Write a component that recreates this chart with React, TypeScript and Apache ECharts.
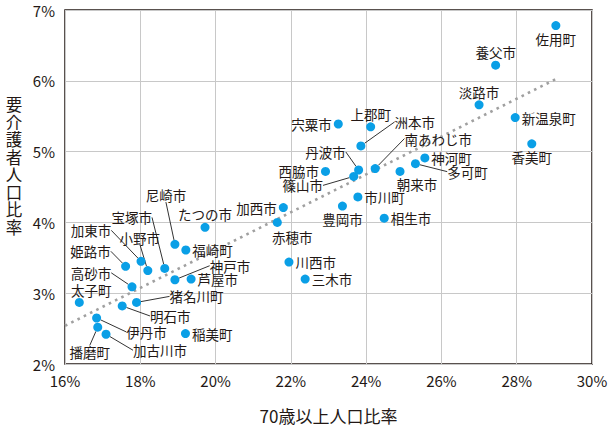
import React, { useEffect, useRef } from 'react'
import * as echarts from 'echarts'

// 市町名・70歳以上人口比率(%)・要介護者人口比率(%)
const towns = [
  '佐用町', '養父市', '淡路市', '新温泉町', '香美町', '宍粟市', '上郡町', '洲本市',
  '丹波市', '南あわじ市', '篠山市', '西脇市', '朝来市', '神河町', '多可町', '市川町',
  '豊岡市', '相生市', '加西市', '赤穂市', '川西市', '三木市', '尼崎市', 'たつの市',
  '福崎町', '加東市', '姫路市', '小野市', '宝塚市', '神戸市', '芦屋市', '高砂市',
  '太子町', '猪名川町', '明石市', '伊丹市', '播磨町', '加古川市', '稲美町',
]
const elderlyRate = [
  29.04, 27.44, 27.0, 27.96, 28.4, 23.26, 24.12, 23.86,
  23.8, 24.24, 23.67, 22.92, 24.9, 25.56, 25.31, 23.78,
  23.37, 24.48, 21.8, 21.64, 21.95, 22.38, 18.92, 19.72,
  19.21, 18.02, 17.61, 18.2, 18.65, 18.92, 19.35, 17.78,
  16.38, 17.9, 17.52, 16.84, 16.87, 17.09, 19.2,
]
const careRate = [
  6.78, 6.22, 5.66, 5.48, 5.11, 5.39, 5.35, 5.08,
  4.74, 4.76, 4.65, 4.72, 4.72, 4.91, 4.83, 4.36,
  4.23, 4.06, 4.21, 4.0, 3.44, 3.2, 3.69, 3.93,
  3.61, 3.45, 3.38, 3.32, 3.35, 3.19, 3.2, 3.09,
  2.87, 2.87, 2.82, 2.65, 2.52, 2.42, 2.43,
]

// 近似直線(点線)の両端
const trendX = [16, 29.06]
const trendY = [2.54, 6.03]

const yTitle = '要介護者人口比率'
const xTitle = '70歳以上人口比率'

// ラベル配置
const labelSide: Record<string, string> = {
  佐用町: 'bottom', 養父市: 'top', 淡路市: 'top', 新温泉町: 'right', 香美町: 'bottom',
  宍粟市: 'left', 上郡町: 'top', 西脇市: 'left', 神河町: 'right', 市川町: 'right',
  豊岡市: 'bottom', 相生市: 'right', 加西市: 'left', 川西市: 'right', 三木市: 'right',
  たつの市: 'top', 福崎町: 'right', 芦屋市: 'right', 稲美町: 'right',
}
// 引き出し線つきラベル(中心のずれ px)
const labelShift: Record<string, [number, number]> = {
  洲本市: [54, -24], 丹波市: [-33, -18], 南あわじ市: [63, -30], 篠山市: [-51, 9],
  多可町: [52, 8], 尼崎市: [-9, -49], 加東市: [-50, -31], 姫路市: [-35, -15],
  小野市: [-8, -33], 宝塚市: [-33, -51], 神戸市: [55, -14], 高砂市: [-41, -14],
  猪名川町: [60, -6], 明石市: [48, 10], 伊丹市: [50, 14], 播磨町: [-8, 25],
  加古川市: [54, 16],
  朝来市: [17, 13], 赤穂市: [15, 15], 太子町: [12, -12],
}
const noLeader = ['朝来市', '赤穂市', '太子町']

const textColor = '#231815'
const font = '"Noto Sans CJK JP", "Noto Sans", sans-serif'

export default function App() {
  const chartRef = useRef<HTMLDivElement>(null)

  useEffect(() => {
    if (!chartRef.current) return
    document.body.style.margin = '0'
    const chart = echarts.init(chartRef.current, null, { renderer: 'svg' })

    const points = towns.map((name, i) => {
      const shift = labelShift[name]
      return {
        name,
        value: [elderlyRate[i], careRate[i]],
        label: { position: shift ? 'inside' : labelSide[name] || 'right' },
        labelLine: { show: !!shift && !noLeader.includes(name) },
      }
    })

    // 縦書きの軸タイトル(1文字ずつ)
    const yTitleChars = yTitle.split('').map((ch, i) => ({
      type: 'text',
      x: 14,
      y: 104 + i * 17.5,
      style: {
        text: ch,
        fontSize: 16.5,
        fontFamily: font,
        fill: textColor,
        align: 'center',
        verticalAlign: 'middle',
      },
    }))

    chart.setOption({
      animation: false,
      grid: {
        left: 65,
        right: 22,
        top: 10,
        bottom: 68,
        show: true,
        borderColor: textColor,
        borderWidth: 1.5,
        backgroundColor: 'transparent',
      },
      graphic: yTitleChars,
      xAxis: {
        type: 'value',
        min: 16,
        max: 30,
        interval: 2,
        name: xTitle,
        nameLocation: 'middle',
        nameGap: 43,
        nameTextStyle: { fontSize: 17, color: textColor, fontFamily: font },
        axisLine: { show: false },
        axisTick: { show: false },
        axisLabel: {
          formatter: (v: number) => `${v}%`,
          fontSize: 15,
          color: textColor,
          fontFamily: font,
          margin: 9,
        },
        splitLine: { lineStyle: { color: '#c8c8c8', width: 1 } },
      },
      yAxis: {
        type: 'value',
        min: 2,
        max: 7,
        interval: 1,
        axisLine: { show: false },
        axisTick: { show: false },
        axisLabel: {
          formatter: (v: number) => `${v}%`,
          fontSize: 15,
          color: textColor,
          fontFamily: font,
          margin: 10,
        },
        splitLine: { lineStyle: { color: '#c8c8c8', width: 1 } },
      },
      series: [
        {
          type: 'line',
          data: trendX.map((x, i) => [x, trendY[i]]),
          showSymbol: false,
          silent: true,
          z: 1,
          lineStyle: { color: '#a0a0a0', width: 2.6, type: [2.6, 4.4] },
        },
        {
          type: 'scatter',
          z: 3,
          symbolSize: 9,
          itemStyle: { color: '#0a9fe6', opacity: 1 },
          data: points,
          label: {
            show: true,
            formatter: '{b}',
            fontSize: 13.5,
            color: textColor,
            fontFamily: font,
            distance: 2,
          },
          labelLine: {
            lineStyle: { color: '#333333', width: 1 },
          },
          labelLayout: (p: any) => {
            const s = labelShift[towns[p.dataIndex]]
            return s ? { dx: s[0], dy: s[1] } : {}
          },
        },
      ],
    })

    return () => chart.dispose()
  }, [])

  return <div ref={chartRef} style={{ width: 614, height: 432 }} />
}
